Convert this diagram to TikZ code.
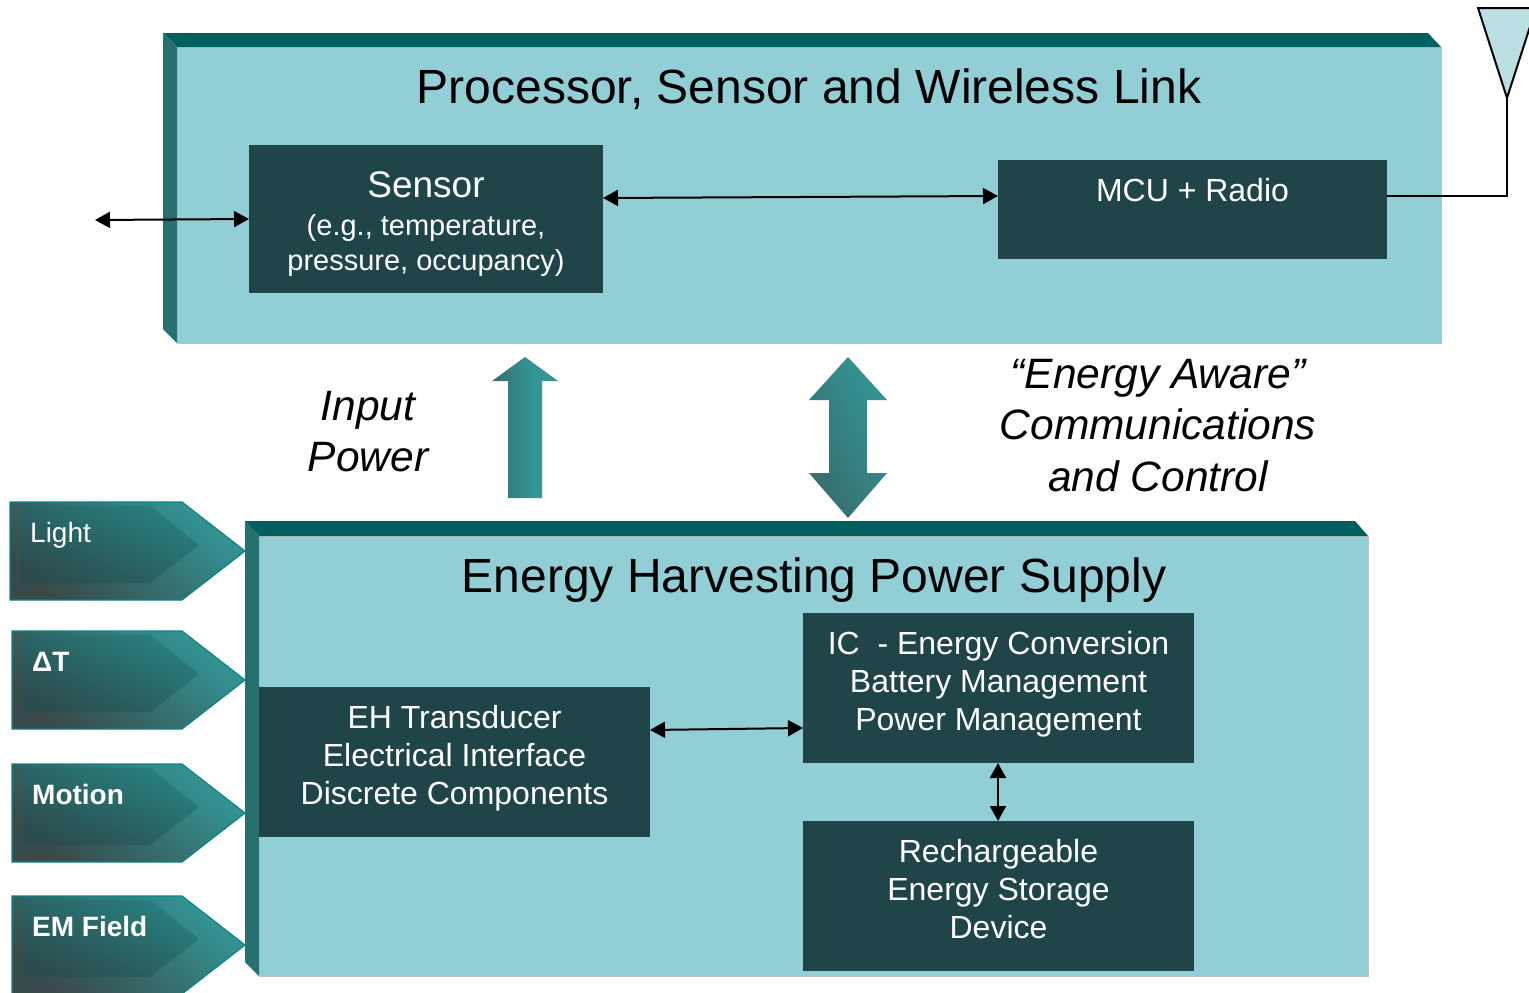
\documentclass[tikz,border=0pt]{standalone}
\usepackage{fontspec}
\setmainfont{Liberation Sans}
\usepackage{xcolor}
\usetikzlibrary{positioning,calc,arrows.meta}
\definecolor{panelfill}{HTML}{92CED6}
\definecolor{paneltop}{HTML}{006060}
\definecolor{panelside}{HTML}{277070}
\definecolor{boxfill}{HTML}{1F4548}
\definecolor{tealhi}{HTML}{339696}
\definecolor{tealmid}{HTML}{27807F}
\definecolor{tealdark}{HTML}{3A4A4A}
\definecolor{tealinner}{HTML}{2D4C4E}
\definecolor{tealfade}{HTML}{386C6E}
\definecolor{tagline}{HTML}{0A8585}
\definecolor{antfill}{HTML}{BBE0E3}
\pgfdeclarehorizontalshading{upfade}{100bp}{color(0bp)=(tealfade); color(25bp)=(tealfade); color(56bp)=(tealhi); color(100bp)=(tealhi)}
\tikzset{
    boxnode/.style={rectangle, fill=boxfill, text=white, inner sep=0pt, outer sep=0pt, anchor=north west, align=center},
    boxtext/.style={anchor=center, align=center, text=white, inner sep=0pt, font=\fontsize{32}{38}\selectfont},
    paneltitle/.style={font=\fontsize{48}{52}\selectfont, text=black, inner sep=0pt},
    sidetext/.style={font=\fontsize{42.5}{51.5}\selectfont\itshape, align=center, inner sep=0pt},
    taglabel/.style={text=white, inner sep=0pt, anchor=base west},
    link/.style={{Triangle[length=15pt,width=16pt]}-{Triangle[length=15pt,width=16pt]}, line width=2pt},
    wire/.style={line width=2pt},
    tagouter/.style={draw=tagline, line width=1.2pt, top color=tealhi, bottom color=tealdark, shading angle=-40},
    taginner/.style={top color=tealmid, bottom color=tealinner, shading angle=-25},
}
\begin{document}
\begin{tikzpicture}[x=1pt, y=-1pt]
    \useasboundingbox (0,0) rectangle (1529,993);

    % upper panel
    \fill [panelfill, draw=black!25, line width=0.6pt] (177,47) rectangle (1441,343);
    \fill [paneltop] (163,33) -- (1428,33) -- (1441,47) -- (177,47) -- cycle;
    \fill [panelside] (163,33) -- (177,47) -- (177,343) -- (163,329) -- cycle;
    % lower panel
    \fill [panelfill, draw=black!25, line width=0.6pt] (259,536) rectangle (1368,976);
    \fill [paneltop] (245,521) -- (1355,521) -- (1368,536) -- (259,536) -- cycle;
    \fill [panelside] (245,521) -- (259,536) -- (259,976) -- (245,962) -- cycle;

    \node [paneltitle] (toptitle) at (809,89) {Processor, Sensor and Wireless Link};
    \node [paneltitle] (lowtitle) at (814,580) {Energy Harvesting Power Supply};

    \node [boxnode, minimum width=354pt, minimum height=148pt, label={[boxtext, yshift=-5.5pt]center:{\fontsize{37}{44}\selectfont Sensor\\[0pt]\fontsize{29}{35}\selectfont (e.g., temperature,\\[-3pt]\fontsize{29}{35}\selectfont pressure, occupancy)}}] (sensor) at (249,145) {};
    \node [boxnode, minimum width=389pt, minimum height=99pt, label={[boxtext, anchor=north, yshift=-18pt]north:MCU + Radio}] (mcu) at (998,160) {};
    \node [boxnode, minimum width=391pt, minimum height=150pt, label={[boxtext, yshift=3.5pt]center:{EH Transducer\\Electrical Interface\\Discrete Components}}] (eh) at (259,687) {};
    \node [boxnode, minimum width=391pt, minimum height=150pt, label={[boxtext, yshift=4pt]center:{IC\ \ - Energy Conversion\\Battery Management\\Power Management}}] (ic) at (803,613) {};
    \node [boxnode, minimum width=391pt, minimum height=150pt, label={[boxtext, yshift=7pt]center:{Rechargeable\\Energy Storage\\Device}}] (store) at (803,821) {};

    \node [sidetext] (inpower) at (368,431.5) {Input\\Power};
    \node [sidetext] (aware) at (1158,425.5) {“Energy Aware”\\Communications\\and Control};

    % power arrows
    \path [shade, shading=upfade]
        (525,357) -- (558,381) -- (542,381) -- (542,498) -- (508,498) -- (508,381) -- (492,381) -- cycle;
    \path [top color=tealhi, middle color=tealhi, bottom color=tealfade, shading angle=-65]
        (848,357) -- (887,400) -- (867,400) -- (867,473) -- (887,473) -- (848,518)
        -- (809,473) -- (829,473) -- (829,400) -- (809,400) -- cycle;

    % harvest sources
    \foreach \tagx/\tagy/\tagname/\tagfont in {10/502/Light/, 12/631/ΔT/\bfseries, 12/764/Motion/\bfseries, 12/896/EM Field/\bfseries} {
        \path [tagouter] (\tagx,\tagy) -- (182,\tagy) -- (245,\tagy+49) -- (182,\tagy+98) -- (\tagx,\tagy+98) -- cycle;
        \path [taginner] (\tagx+10,\tagy+4) -- (150,\tagy+4) -- (199,\tagy+43) -- (150,\tagy+81) -- (\tagx+10,\tagy+81) -- cycle;
        \node [taglabel, font=\fontsize{28}{32}\selectfont\tagfont] at (\tagx+20,\tagy+40) {\tagname};
    }

    % antenna
    \coordinate (antfoot) at (1507,98);
    \coordinate (antbend) at (1507,196);
    \coordinate (sensorport) at (95,220);
    \draw [fill=antfill, line width=2pt] (1478,8) -- (antfoot) -- (1536,8) -- cycle;
    \draw [wire] (mcu.north east |- antbend) -- (antbend) -- (antfoot);

    % signal links
    \draw [link] (sensorport) -- (sensor.west |- 0,219);
    \draw [link] (sensor.east |- 0,198) -- (mcu.west |- 0,196);
    \draw [link] (eh.east |- 0,730) -- (ic.west |- 0,728);
    \draw [link] (ic.south -| 998,0) -- (store.north -| 998,0);
\end{tikzpicture}
\end{document}
